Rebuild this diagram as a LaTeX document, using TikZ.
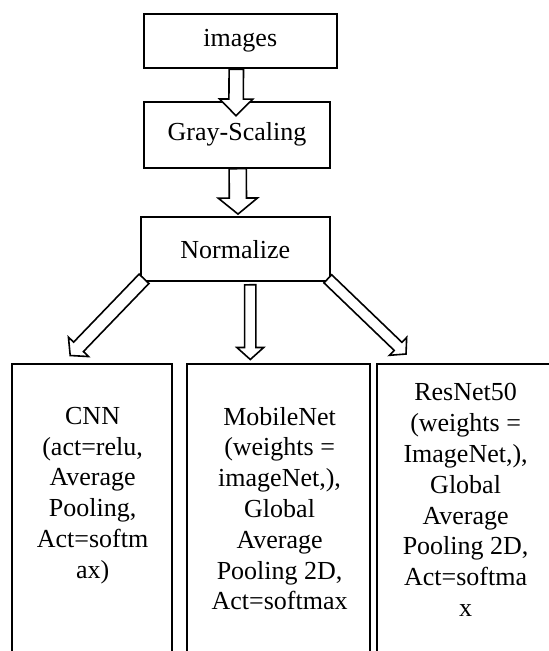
\documentclass[tikz,border=0pt]{standalone}
\usepackage{fontspec}
\setmainfont{Liberation Serif}
\usetikzlibrary{calc}
\tikzstyle{every node}=[font=\fontsize{13}{15.4}\selectfont]
\tikzstyle{stagebox}=[draw, line width=1pt, fill=white, inner sep=0pt]
\tikzstyle{modelbox}=[draw, line width=1pt, anchor=north, inner sep=0pt]
\tikzstyle{modeltext}=[anchor=north, align=center, inner sep=0pt]
\tikzstyle{fatarrow}=[draw, fill=white, line width=0.8pt, line join=miter]

% hollow block arrow: #1 tail, #2 tip, #3 shaft half width, #4 head half width, #5 head length
\newcommand{\blockarrow}[5]{%
  \coordinate (ab) at ($(#2)!#5!(#1)$);
  \path[fatarrow] ($(#1)!#3!90:(#2)$) -- ($(ab)!#3!90:(#2)$) -- ($(ab)!#4!90:(#2)$) -- (#2)
    -- ($(ab)!#4!-90:(#2)$) -- ($(ab)!#3!-90:(#2)$) -- ($(#1)!#3!-90:(#2)$) -- cycle;}

\begin{document}
\begin{tikzpicture}[x=0.5pt, y=-0.5pt]
  \useasboundingbox (0,0) rectangle (548,651);

  % Preprocessing stages
  \node[stagebox, minimum width=96.3pt, minimum height=27.2pt] (img) at (240.3,41.2) {images};
  \node[stagebox, minimum width=93pt, minimum height=33pt] (gray) at (237,134.7) {Gray-Scaling};
  \node[stagebox, minimum width=94.4pt, minimum height=31.8pt] (norm) at (235.2,249.2) {Normalize};

  % Model boxes (open at the bottom edge)
  \node[modelbox, minimum width=80pt, minimum height=149pt] (cnnbox) at (92.2,362.5) {};
  \node[modelbox, minimum width=91.4pt, minimum height=144.15pt] (mobbox) at (278.4,362.5) {};
  \node[modelbox, minimum width=106.6pt, minimum height=144.15pt] (resbox) at (483.4,362.5) {};

  % Model texts
  \node[modeltext] (cnntext) at ($(cnnbox.north)+(0.4,44.2)$)
    {CNN\\(act=relu,\\Average\\Pooling,\\Act=softm\\ax)};
  \node[modeltext] (mobtext) at ($(mobbox.north)+(1.2,44.2)$)
    {MobileNet\\(weights =\\imageNet,),\\Global\\Average\\Pooling 2D,\\Act=softmax};
  \node[modeltext] (restext) at ($(resbox.north west)+(89.8,20.8)$)
    {ResNet50\\(weights =\\ImageNet,),\\Global\\Average\\Pooling 2D,\\Act=softma\\x};

  % Arrow ends
  \coordinate (a1s) at ($(img.south)+(-4,0)$);
  \coordinate (a1e) at ($(gray.north)+(-1,15)$);
  \coordinate (a2s) at ($(gray.south)+(0.7,0)$);
  \coordinate (a2e) at ($(norm.north)+(2.8,-2.3)$);
  \coordinate (a3s) at ($(norm.south west)+(4.2,-3.2)$);
  \coordinate (a3e) at ($(cnnbox.north)+(-22,-7)$);
  \coordinate (a4s) at ($(norm.south)+(15,2.8)$);
  \coordinate (a4e) at ($(mobbox.north)+(-28.1,-3)$);
  \coordinate (a5s) at ($(norm.south east)+(-2.8,-3.2)$);
  \coordinate (a5e) at ($(resbox.north west)+(30.2,-8.5)$);

  % Block arrows
  \blockarrow{a1s}{a1e}{3.6pt}{8.3pt}{8.3pt}
  \blockarrow{a2s}{a2e}{4.3pt}{9.8pt}{8pt}
  \blockarrow{a3s}{a3e}{3.4pt}{7pt}{6pt}
  \blockarrow{a4s}{a4e}{2.8pt}{6.7pt}{6pt}
  \blockarrow{a5s}{a5e}{2.8pt}{6.2pt}{5.5pt}
\end{tikzpicture}
\end{document}
